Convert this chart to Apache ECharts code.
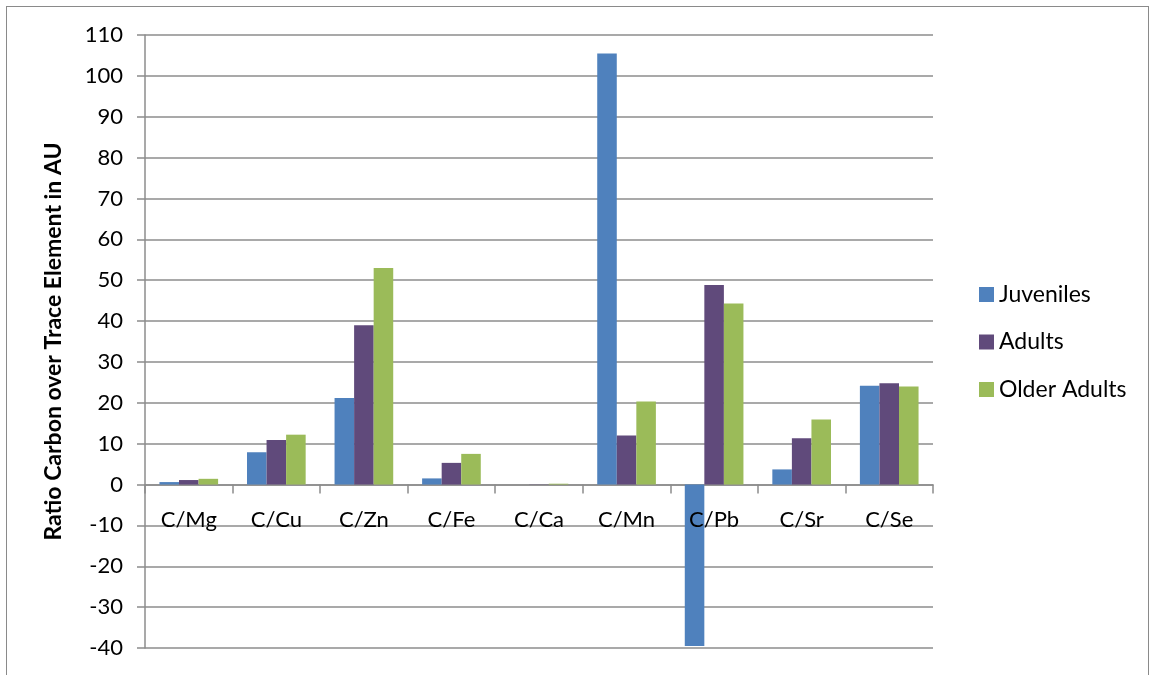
<!DOCTYPE html>
<html><head><meta charset="utf-8">
<script src="https://cdn.jsdelivr.net/npm/echarts@6/dist/echarts.min.js"></script>
<style>
html,body{margin:0;padding:0;background:#fff;}
#frame{position:absolute;left:6px;top:6px;width:1143px;height:700px;border:1.5px solid #8a8a8a;box-sizing:border-box;}
#c{position:absolute;left:0;top:0;width:1153px;height:675px;}
</style></head>
<body>
<div id="frame"></div>
<div id="c"></div>
<script>
const categories = ['C/Mg','C/Cu','C/Zn','C/Fe','C/Ca','C/Mn','C/Pb','C/Sr','C/Se'];
const juveniles = [0.6, 7.9, 21.2, 1.5, 0.0, 105.5, -39.5, 3.7, 24.2];
const adults = [1.1, 10.9, 39.0, 5.3, 0.05, 12.0, 48.8, 11.3, 24.8];
const olderAdults = [1.4, 12.2, 53.0, 7.5, 0.2, 20.3, 44.3, 15.9, 24.0];
const seriesNames = ['Juveniles','Adults','Older Adults'];
const colors = ['#4F81BD','#604A7B','#9BBB59'];
const yTitle = 'Ratio Carbon over Trace Element in AU';

const font = 'Lato, "Open Sans", sans-serif';
const chart = echarts.init(document.getElementById('c'));
const data = [juveniles, adults, olderAdults];
const grid = {left:145,right:220,top:35,bottom:27,containLabel:false,outerBoundsMode:'none'};
function build(offset){
  return {
  animation:false,
  grid:grid,
  legend:{
    orient:'vertical',left:974,top:278,itemWidth:15,itemHeight:15,itemGap:24.5,
    icon:'rect',
    textStyle:{fontFamily:font,fontSize:23,color:'#000'},
    data:seriesNames
  },
  xAxis:[{
    type:'category',data:categories,
    axisLine:{onZero:true,lineStyle:{color:'#8c8c8c',width:1.5}},
    axisTick:{show:true,length:9,lineStyle:{color:'#8c8c8c',width:1.5}},
    axisLabel:{show:false}
  },{
    type:'category',data:categories,position:'bottom',offset:offset,z:10,
    axisLine:{show:false,onZero:false},axisTick:{show:false},
    axisLabel:{fontFamily:font,fontSize:22,color:'#000',margin:24}
  }],
  yAxis:{
    type:'value',min:-40,max:110,interval:10,
    name:yTitle,nameLocation:'middle',nameGap:80,
    nameTextStyle:{fontFamily:font,fontSize:23,fontWeight:'bold',color:'#000'},
    axisLine:{show:true,lineStyle:{color:'#8c8c8c',width:1.5}},
    axisTick:{show:true,length:8,lineStyle:{color:'#8c8c8c',width:1.5}},
    axisLabel:{fontFamily:font,fontSize:22,color:'#000',margin:22},
    splitLine:{lineStyle:{color:'#8c8c8c',width:1.5}}
  },
  series: seriesNames.map((n,i)=>({
    name:n,type:'bar',data:data[i],xAxisIndex:0,
    barGap:'0%',barCategoryGap:'33%',
    itemStyle:{color:colors[i]}
  }))
  };
}
chart.setOption(build(0));
const zeroPx = chart.convertToPixel({yAxisIndex:0}, 0);
const minPx = chart.convertToPixel({yAxisIndex:0}, -40);
chart.setOption({xAxis:[{},{offset:-(minPx-zeroPx)}]});
</script>
</body></html>
